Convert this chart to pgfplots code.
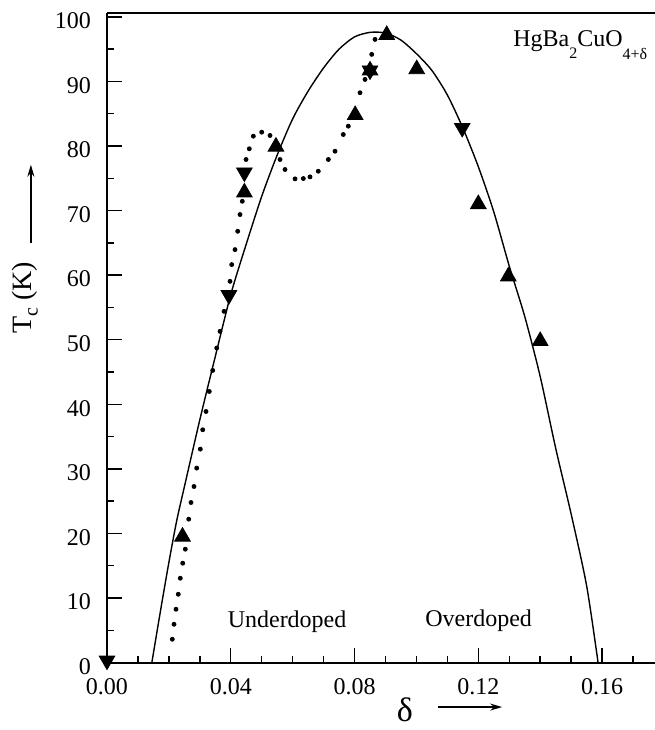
\documentclass[border=0pt]{standalone}
\usepackage{fontspec}
\setmainfont{Liberation Serif}
\usepackage{pgfplots}
\pgfplotsset{compat=1.18}
\usetikzlibrary{arrows.meta}

\begin{document}
\begin{tikzpicture}
\begin{axis}[
  width=274pt, height=324.75pt, scale only axis,
  xmin=0, xmax=0.1771, ymin=0, ymax=100.6,
  axis x line*=bottom, axis y line*=left,
  axis line style={line width=1pt},
  tick align=inside,
  xtick={0,0.04,0.08,0.12,0.16},
  minor xtick={0.01,0.02,0.03,0.05,0.06,0.07,0.09,0.10,0.11,0.13,0.14,0.15,0.17},
  ytick={0,10,...,100},
  minor ytick={5,15,...,95},
  major tick length=7.5pt, minor tick length=3.5pt,
  tick style={line width=0.7pt, black},
  /pgf/number format/assume math mode=true,
  scaled x ticks=false,
  xticklabel={\pgfmathprintnumber[fixed,fixed zerofill,precision=2]{\tick}},
  tick label style={font=\fontsize{12}{14}\selectfont},
  xticklabel style={yshift=-4.5pt},
  yticklabel style={xshift=-4.5pt, yshift=-2pt},
  clip=false,
]
% fit curve (solid)
\addplot[black, line width=0.7pt, smooth, tension=0.45] coordinates {
  (0.0145,0) (0.0175,8.6) (0.020,15.5) (0.0225,21.9) (0.025,27.2)
  (0.030,37.6) (0.035,47.4) (0.040,57.0) (0.045,64.8) (0.050,72.2)
  (0.055,78.6) (0.060,84.2) (0.065,88.5) (0.070,92.1) (0.075,95.0)
  (0.080,96.9) (0.085,97.6) (0.090,97.5) (0.095,96.4) (0.100,94.3)
  (0.105,91.7) (0.110,87.9) (0.115,82.8) (0.120,76.8) (0.125,69.8)
  (0.130,61.4) (0.135,53.6) (0.140,44.3) (0.145,33.2) (0.150,23.0)
  (0.155,11.9) (0.1587,0)
};
% dotted curve, one dot per point
\addplot[only marks, mark=*, mark size=1pt, black] coordinates {
  (0.02111,3.60) (0.02166,5.92) (0.02230,8.25) (0.02304,10.57) (0.02369,13.05)
  (0.02447,15.38) (0.02531,17.55) (0.02641,22.20) (0.02715,24.78) (0.02812,27.26)
  (0.02899,30.11) (0.03016,33.05) (0.03093,36.05) (0.03200,38.88) (0.03306,41.98)
  (0.03416,45.24) (0.03546,48.71) (0.03652,51.29) (0.03782,54.39) (0.03975,59.04)
  (0.04030,61.63) (0.04137,63.95) (0.04224,66.79) (0.04299,69.38) (0.04373,71.44)
  (0.04493,77.91) (0.04599,79.57) (0.04729,81.52) (0.05000,82.14) (0.05268,81.63)
  (0.05592,77.91) (0.05753,76.36) (0.06077,74.91) (0.06345,74.96) (0.06561,75.22)
  (0.06829,76.09) (0.07153,77.91) (0.07369,79.19) (0.07637,81.78) (0.07799,83.07)
  (0.08177,88.25) (0.08339,90.31) (0.08555,94.19) (0.08662,96.51)
};
% up triangles
\addplot[only marks, mark=triangle*, mark size=4.5pt, black] coordinates {
  (0.0244,19.5) (0.0444,72.8) (0.0546,79.9) (0.0802,84.8) (0.0850,91.7)
  (0.0904,97.2) (0.1001,91.9) (0.1200,71.0) (0.1297,59.8) (0.1400,49.8)
};
% down triangles
\addplot[only marks, mark=triangle*, mark size=4.5pt, black,
  every mark/.append style={rotate=180}] coordinates {
  (0,0.3) (0.0394,56.9) (0.0444,75.9) (0.0850,91.7) (0.1148,82.8)
};
\node[anchor=base west, font=\fontsize{12}{14}\selectfont, inner sep=0pt]
  at (axis cs:0.1312,95.4) {HgBa\raisebox{-6pt}{\fontsize{8}{9}\selectfont 2}CuO\raisebox{-6.5pt}{\fontsize{8}{9}\selectfont 4+δ}};
\node[anchor=base, font=\fontsize{12}{14}\selectfont, inner sep=0pt]
  at (axis cs:0.0582,5.35) {Underdoped};
\node[anchor=base, font=\fontsize{12}{14}\selectfont, inner sep=0pt]
  at (axis cs:0.1201,5.5) {Overdoped};
\node[rotate=90, font=\fontsize{14}{16}\selectfont, inner sep=0pt]
  at (axis cs:-0.0265,56.5) {T\raisebox{-3pt}{\fontsize{10}{11}\selectfont c} (K)};
\draw[line width=0.8pt, -{Stealth[length=6pt,width=3.5pt]}]
  (axis cs:-0.0246,65) -- (axis cs:-0.0246,77.1);
\node[font=\fontsize{17}{19}\selectfont, inner sep=0pt] at (axis cs:0.0963,-7.4) {δ};
\draw[line width=0.8pt, -{Stealth[length=6pt,width=3.5pt]}]
  (axis cs:0.107,-6.9) -- (axis cs:0.1277,-6.9);
\draw[line width=1pt] (rel axis cs:0,1) -- (rel axis cs:1,1);
\coordinate (sw) at (rel axis cs:0,0);
\coordinate (ne) at (rel axis cs:1,1);
\end{axis}
\pgfresetboundingbox
\path ([shift={(-53.5pt,-33.75pt)}]sw) rectangle ([shift={(0pt,6.5pt)}]ne);
\end{tikzpicture}
\end{document}
